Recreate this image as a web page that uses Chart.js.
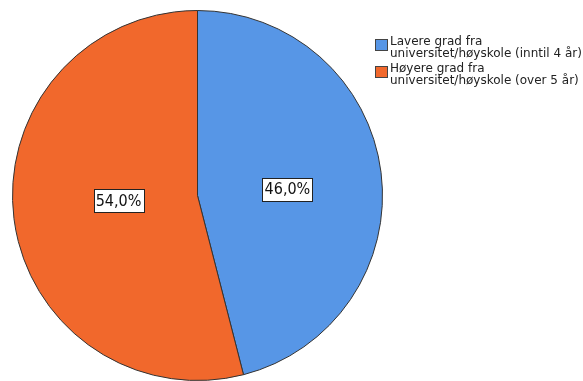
<!DOCTYPE html>
<html>
<head>
<meta charset="utf-8">
<script src="https://cdn.jsdelivr.net/npm/chart.js@4/dist/chart.umd.min.js"></script>
<style>
html,body{margin:0;padding:0;background:#fff;}
canvas{display:block;}
</style>
</head>
<body>
<canvas id="c" width="583" height="381"></canvas>
<script>
const categories = ["Lavere grad fra\nuniversitet/høyskole (inntil 4 år)", "Høyere grad fra\nuniversitet/høyskole (over 5 år)"];
const percentValues = [46.0, 54.0];
const sliceColors = ["#5796E6", "#F1682C"];

const labelPlugin = {
  id: 'pctLabels',
  afterDatasetsDraw(chart) {
    const ctx = chart.ctx;
    const meta = chart.getDatasetMeta(0);
    const fr = [0.49, 0.43];
    meta.data.forEach((arc, i) => {
      const p = arc.getProps(['x','y','startAngle','endAngle','outerRadius'], true);
      const mid = (p.startAngle + p.endAngle) / 2;
      const r = p.outerRadius * fr[i];
      const x = p.x + Math.cos(mid) * r;
      const y = p.y + Math.sin(mid) * r * 0.55;
      const txt = percentValues[i].toFixed(1).replace('.', ',') + '%';
      ctx.save();
      ctx.font = '16px "DejaVu Sans Condensed", "DejaVu Sans"';
      const w = ctx.measureText(txt).width;
      const bw = Math.round(w + 4), bh = 23;
      const bx = Math.round(x - bw/2) + 0.5, by = Math.round(y - bh/2) + 0.5;
      ctx.fillStyle = '#fff';
      ctx.fillRect(bx, by, bw, bh);
      ctx.strokeStyle = '#222';
      ctx.lineWidth = 1;
      ctx.strokeRect(bx, by, bw, bh);
      ctx.fillStyle = '#111';
      ctx.textAlign = 'center';
      ctx.textBaseline = 'middle';
      ctx.fillText(txt, x, y + 1);
      ctx.restore();
    });
  }
};

const legendPlugin = {
  id: 'sideLegend',
  afterDraw(chart) {
    const ctx = chart.ctx;
    ctx.save();
    ctx.font = '12px "DejaVu Sans"';
    ctx.textBaseline = 'alphabetic';
    ctx.textAlign = 'left';
    let y0 = 45;
    categories.forEach((lab, i) => {
      const lines = lab.split('\n');
      ctx.fillStyle = sliceColors[i];
      ctx.fillRect(375.5, y0 - 5.5, 12, 11);
      ctx.strokeStyle = '#444';
      ctx.lineWidth = 1;
      ctx.strokeRect(375.5, y0 - 5.5, 12, 11);
      ctx.fillStyle = '#222';
      lines.forEach((ln, j) => {
        ctx.fillText(ln, 390, y0 + j * 11.5);
      });
      y0 += 27;
    });
    ctx.restore();
  }
};

new Chart(document.getElementById('c'), {
  type: 'pie',
  data: {
    labels: categories,
    datasets: [{
      data: percentValues,
      backgroundColor: sliceColors,
      borderColor: '#333',
      borderWidth: 1
    }]
  },
  options: {
    responsive: false,
    animation: false,
    events: [],
    layout: { padding: { left: 12, top: 10, right: 200, bottom: 0 } },
    plugins: { legend: { display: false }, tooltip: { enabled: false } }
  },
  plugins: [labelPlugin, legendPlugin]
});
</script>
</body>
</html>
